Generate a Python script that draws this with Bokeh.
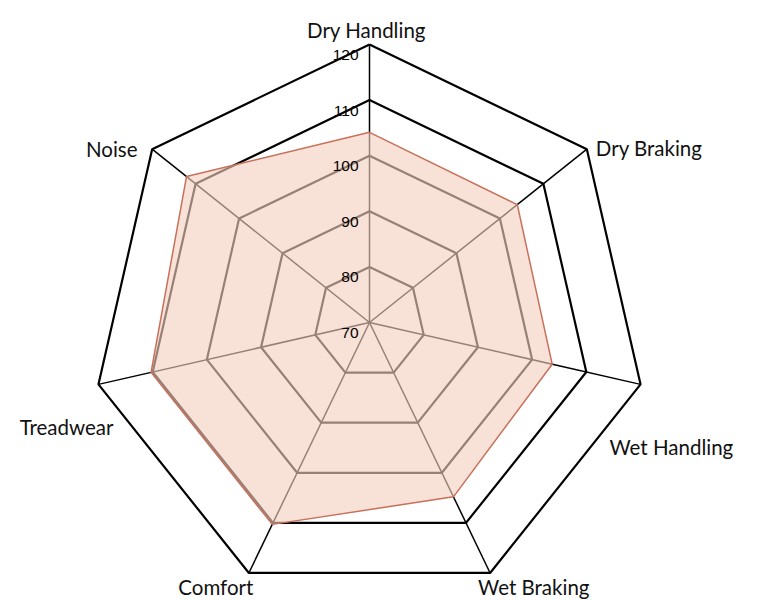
import numpy as np
from bokeh.plotting import figure
from bokeh.models import Range1d
from bokeh.core.properties import value
from bokeh.embed import file_html
from bokeh.resources import INLINE

# ---- data ----
categories = ["Dry Handling", "Dry Braking", "Wet  Handling", "Wet Braking",
              "Comfort", "Treadwear", "Noise"]
scores = [104.2, 104.0, 103.7, 104.8, 110.3, 110.3, 112.1]
grid_levels = [70, 80, 90, 100, 110, 120]
tick_labels = ["70", "80", "90", "100", "110", "120"]

# ---- layout / style ----
R_MIN, R_MAX = 70, 120
OUTER_PX = 278
SCALE = OUTER_PX / (R_MAX - R_MIN)
CX, CY = 369, 322          # centre on the canvas, px
W, H = 760, 600
LABEL_FONT = "Lato"
LABEL_SIZE = "20.5px"
# (align, dx right, dy down) relative to outer vertex, in px
label_style = [("center", -3, -15), ("left", 9, -1), ("left", -31, 63),
               ("left", -12, 14), ("right", 4.5, 14), ("right", 15, 43),
               ("right", -14.6, 0)]

n = len(categories)
angles = np.pi / 2 - 2 * np.pi * np.arange(n) / n


def to_xy(v, k):
    r = (v - R_MIN) * SCALE
    return r * np.cos(angles[k]), r * np.sin(angles[k])


p = figure(width=W, height=H, x_range=Range1d(-CX, W - CX),
           y_range=Range1d(CY - H, CY), output_backend="svg",
           toolbar_location=None, min_border=0,
           x_axis_type=None, y_axis_type=None)
p.grid.visible = False
p.outline_line_color = None

# rings
ring_xs, ring_ys = [], []
for lev in grid_levels[1:]:
    pts = [to_xy(lev, k) for k in range(n)] + [to_xy(lev, 0)]
    ring_xs.append([a for a, b in pts])
    ring_ys.append([b for a, b in pts])
p.multi_line(ring_xs, ring_ys, line_color="black", line_width=2.2)

# spokes
outer = [to_xy(R_MAX, k) for k in range(n)]
p.segment(x0=[0] * n, y0=[0] * n, x1=[o[0] for o in outer],
          y1=[o[1] for o in outer], line_color="black", line_width=1.5)

# data
dpts = [to_xy(s, k) for k, s in enumerate(scores)]
p.patch([a for a, b in dpts], [b for a, b in dpts], fill_color="#f3cfbf",
        fill_alpha=0.62, line_color="#c8705a", line_width=1.5)

# tick labels
p.text(x=[-11] * len(grid_levels),
       y=[to_xy(lev, 0)[1] - 10.5 for lev in grid_levels],
       text=tick_labels, text_align="right", text_baseline="alphabetic",
       text_font=value("Liberation Sans"), text_font_size="15.5px",
       text_color="black")

# category labels
for k, (cat, (al, dx, dy)) in enumerate(zip(categories, label_style)):
    ox, oy = outer[k]
    p.text(x=[ox + dx], y=[oy - dy], text=[cat], text_align=al,
           text_baseline="alphabetic", text_font=value(LABEL_FONT),
           text_font_size=LABEL_SIZE, text_color="#111111")

open("out.html", "w").write(file_html(p, INLINE))
